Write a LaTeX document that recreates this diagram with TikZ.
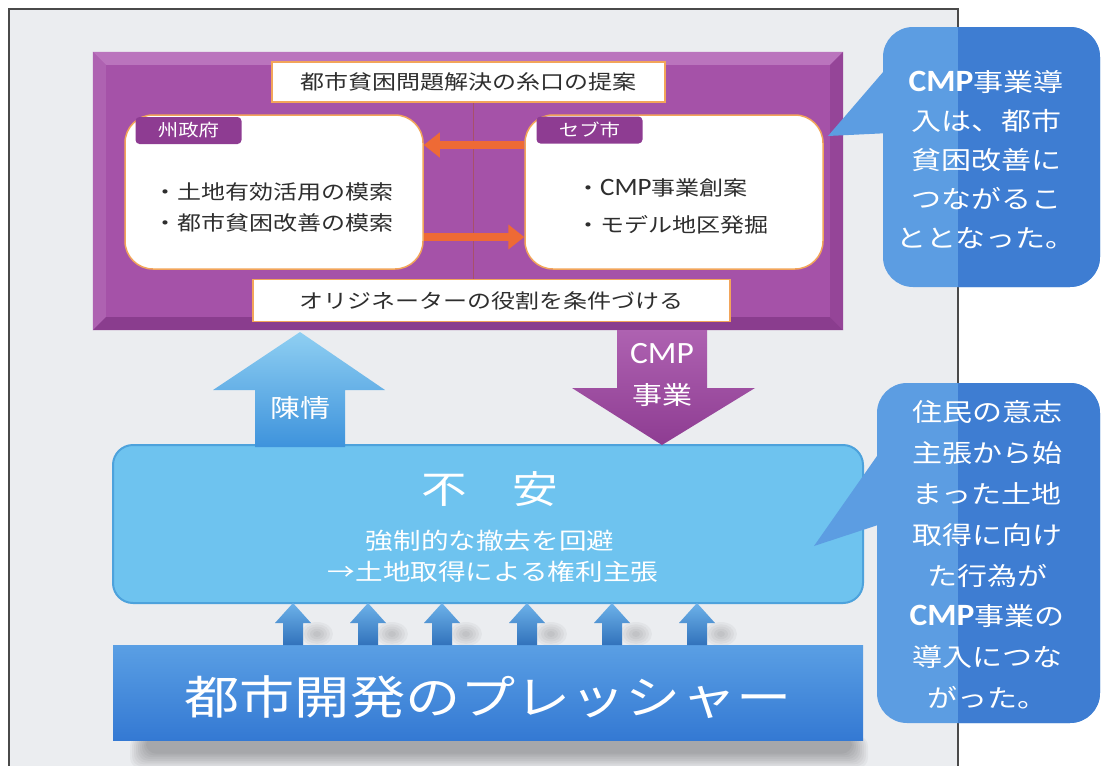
\documentclass[tikz,border=0pt]{standalone}
\usepackage{fontspec}
\setmainfont[FakeStretch=1.2]{Noto Sans CJK JP}
\newfontfamily\latinfont[FakeStretch=1.08]{Carlito}
\usetikzlibrary{arrows.meta,calc}
\definecolor{bgframe}{HTML}{EBEDF0}
\definecolor{frameln}{HTML}{4A4A4A}
\definecolor{purp}{HTML}{A552A8}
\definecolor{purpL}{HTML}{BA74BD}
\definecolor{purpM}{HTML}{AE62B1}
\definecolor{purpD}{HTML}{8A3D8E}
\definecolor{tabp}{HTML}{8E3C92}
\definecolor{orgline}{HTML}{F2A55A}
\definecolor{orgarr}{HTML}{EE6A35}
\definecolor{vline}{HTML}{A8506A}
\definecolor{skyb}{HTML}{6EC3EF}
\definecolor{skybD}{HTML}{4DA2DC}
\definecolor{barb}{HTML}{3479D3}
\definecolor{barbL}{HTML}{5A9FE4}
\definecolor{bubL}{HTML}{5C9DE2}
\definecolor{bubD}{HTML}{3E7DD2}
\definecolor{txt}{HTML}{2E2E2E}
\definecolor{arrL}{HTML}{8FCFF2}
\definecolor{arrD}{HTML}{3E93DC}
\definecolor{smallar}{HTML}{3A86DC}
\tikzset{
  lbl/.style={fill=white, draw=orgline, line width=1.5pt, text=txt,
    font=\fontsize{20}{24}\selectfont, inner sep=0pt},
  wbox/.style={fill=white, draw=orgline, line width=1.5pt, rounded corners=28pt,
    minimum width=298pt, minimum height=154pt, inner sep=0pt},
  tabbox/.style={fill=tabp, rounded corners=4pt, text=white,
    font=\fontsize{17}{20}\selectfont, minimum width=106pt, minimum height=27pt, inner sep=0pt},
  bodytext/.style={text=txt, align=left, inner sep=0pt},
  orgarrow/.style={draw=orgarr, line width=8pt, -{Triangle[width=24pt,length=16pt]}},
  whitetext/.style={text=white, inner sep=0pt, align=center},
  bubtext/.style={text=white, inner sep=0pt, align=center, font=\fontsize{25}{40}\selectfont},
  smallarrow/.style={top color=arrL!60!smallar, bottom color=smallar!85!black},
}
\begin{document}
\begin{tikzpicture}[x=1pt,y=-1pt]
\useasboundingbox (0,0) rectangle (1101,766);
\fill[white] (0,0) rectangle (1101,766);
\fill[bgframe] (9,9) rectangle (958,766);
\draw[frameln, line width=1.2pt] (9,766) -- (9,9) -- (958,9) -- (958,766);

% ---------- purple main box ----------
\node[fill=purp, minimum width=750pt, minimum height=278pt, inner sep=0pt] (main) at (468,191) {};
\fill[purpL] (main.north west) -- (main.north east) -- ($(main.north east)+(-13,13)$) -- ($(main.north west)+(13,13)$) -- cycle;
\fill[purpM] (main.north west) -- ($(main.north west)+(13,13)$) -- ($(main.south west)+(13,-13)$) -- (main.south west) -- cycle;
\fill[purpD] (main.south west) -- ($(main.south west)+(13,-13)$) -- ($(main.south east)+(-13,-13)$) -- (main.south east) -- cycle;
\fill[purpD!60!purp] (main.north east) -- ($(main.north east)+(-13,13)$) -- ($(main.south east)+(-13,-13)$) -- (main.south east) -- cycle;

\node[lbl, minimum width=393pt, minimum height=40pt] (toplbl) at (468.5,82) {都市貧困問題解決の糸口の提案};
\node[lbl, minimum width=477pt, minimum height=42pt] (botlbl) at (491.5,300.5) {オリジネーターの役割を条件づける};

\coordinate (vx) at (473,0);
\draw[vline, line width=1pt] (toplbl.south -| vx) -- (botlbl.north -| vx);

\node[wbox] (lbox) at (274,192) {};
\node[wbox] (rbox) at (674,192) {};
\node[tabbox] (ltab) at (188.5,130.5) {州政府};
\node[tabbox] (rtab) at (589.5,130) {セブ市};

\node[bodytext, anchor=west, font=\fontsize{20}{31}\selectfont] (ltext) at (153,207.5) {・土地有効活用の模索\\・都市貧困改善の模索};
\node[bodytext, anchor=west, font=\fontsize{20}{37}\selectfont] (rtext) at (576,206.5) {・{\latinfont\fontsize{25}{37}\selectfont CMP}事業創案\\・モデル地区発掘};

\coordinate (ya) at (0,145);
\coordinate (yb) at (0,237);
\draw[orgarrow] (rbox.west |- ya) -- (lbox.east |- ya);
\draw[orgarrow] (lbox.east |- yb) -- (rbox.west |- yb);

% ---------- 不安 box ----------
\node[fill=skyb, draw=skybD, line width=2pt, rounded corners=20pt, minimum width=750pt, minimum height=158pt, inner sep=0pt] (fuan) at (488,524) {};
\node[whitetext, font=\fontsize{38}{40}\selectfont] (fuant) at (490,489) {不　安};
\node[whitetext, font=\fontsize{23}{26}\selectfont] (fuan1) at (490,541) {強制的な撤去を回避};
\node[whitetext, font=\fontsize{23}{26}\selectfont] (fuan2) at (493,572) {→土地取得による権利主張};

% ---------- 陳情 arrow ----------
\shade[top color=arrL, bottom color=arrD] (255,447) -- (255,390) -- (213,390) -- (300,332) -- (385,390) -- (345,390) -- (345,447) -- cycle;
\node[whitetext, font=\fontsize{25}{28}\selectfont] (chinjo) at (300,408) {陳情};

% ---------- CMP arrow ----------
\shade[top color=purpM, bottom color=tabp] (617,330) -- (707,330) -- (707,388) -- (755,388) -- (662,445) -- (572,388) -- (617,388) -- cycle;
\node[whitetext, font=\latinfont\fontsize{31}{32}\selectfont] (cmp1) at (662,354) {CMP};
\node[whitetext, font=\fontsize{25}{28}\selectfont] (cmp2) at (662,395) {事業};

% ---------- bottom bar ----------
\foreach \k in {0,2,...,16}{
  \fill[black, opacity=0.035, rounded corners=10pt] (130+\k,736) rectangle (868-\k,768-\k*0.9);
}
\foreach \xx in {293,368,442,527,612,697}{
  \foreach \r in {4,7,...,16}{
    \fill[black, opacity=0.035] (\xx+24,634) ellipse ({\r pt} and {\r*0.75 pt});
  }
}
\shade[top color=barbL, bottom color=barb] (113,645) rectangle (863,740);
\node[inner sep=0pt, minimum width=750pt, minimum height=95pt] (bar) at (488,692.5) {};
\node[whitetext, font=\fontsize{46}{50}\selectfont] (bart) at (488,697) {都市開発のプレッシャー};

% small arrows
\foreach \xx in {293,368,442,527,612,697}{
  \shade[smallarrow] (\xx-10,645) -- (\xx-10,623) -- (\xx-18,623) -- (\xx,603) -- (\xx+18,623) -- (\xx+10,623) -- (\xx+10,645) -- cycle;
}

% ---------- bubble 1 ----------
\fill[bubL, rounded corners=30pt] (883,27) rectangle (1100,287);
\begin{scope}
  \clip (958,0) rectangle (1101,766);
  \fill[bubD, rounded corners=30pt] (883,27) rectangle (1100,287);
\end{scope}
\fill[bubL] (890,64) -- (828,136) -- (890,133) -- cycle;
\node[bubtext, font=\fontsize{25}{39}\selectfont] (bub1) at (986,159.5) {{\latinfont\fontsize{31}{39}\selectfont\bfseries CMP}事業導\\入は、都市\\貧困改善に\\つながるこ\\ととなった。};

% ---------- bubble 2 ----------
\fill[bubL, rounded corners=30pt] (877,383) rectangle (1100,723);
\begin{scope}
  \clip (958,0) rectangle (1101,766);
  \fill[bubD, rounded corners=30pt] (877,383) rectangle (1100,723);
\end{scope}
\fill[bubL] (884,446) -- (814,546) -- (884,523) -- cycle;
\node[bubtext, font=\fontsize{25}{40.8}\selectfont] (bub2) at (987,555) {住民の意志\\主張から始\\まった土地\\取得に向け\\た行為が\\{\latinfont\fontsize{31}{40}\selectfont\bfseries CMP}事業の\\導入につな\\がった。};
\end{tikzpicture}
\end{document}
